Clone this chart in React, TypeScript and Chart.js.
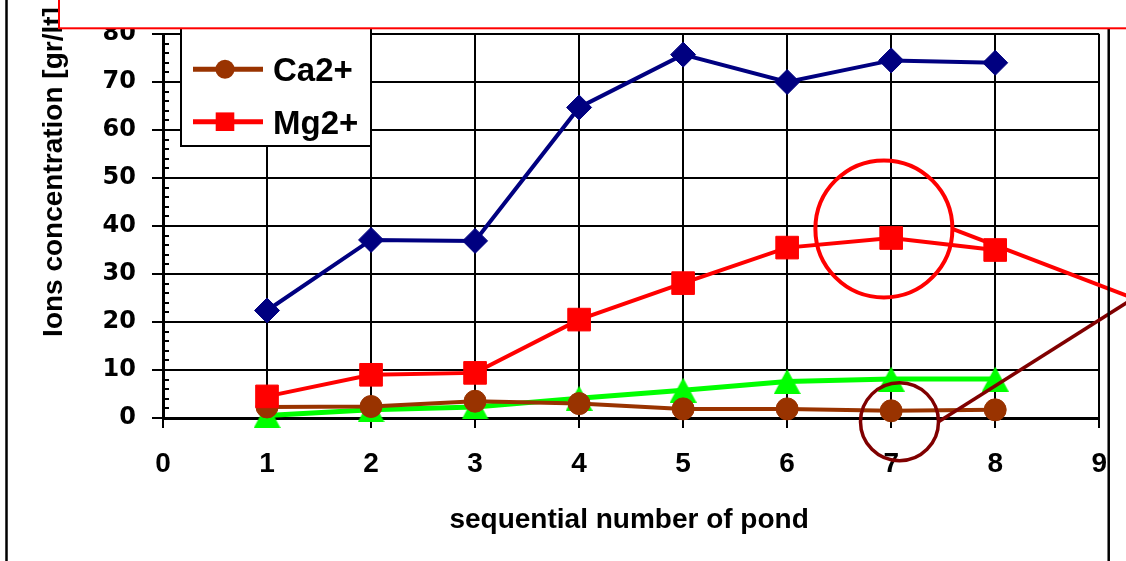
import { useEffect, useRef } from "react";
import { Chart, registerables } from "chart.js";

Chart.register(...registerables);

// ---- data ----
const ponds = [1, 2, 3, 4, 5, 6, 7, 8];
const naValues = [22.4, 37.1, 36.9, 64.7, 75.7, 70.0, 74.5, 74.0];
const kValues = [0.5, 1.7, 2.3, 4.1, 5.8, 7.6, 8.1, 8.1];
const caValues = [2.3, 2.4, 3.5, 3.0, 1.9, 1.9, 1.5, 1.7];
const mgValues = [4.5, 9.0, 9.4, 20.5, 28.1, 35.5, 37.5, 35.0];

const xRange = [0, 9];
const yRange = [0, 80];
const xTitle = "sequential number of pond";
const yTitle = "Ions concentration [gr/lt]";
const legendOrder = ["Na+", "K+", "Ca2+", "Mg2+"];

// highlight annotations (data coordinates)
const mgHighlightCenter = [6.93, 39.4];
const mgHighlightEnd = [9.3, 25.2];
const caHighlightCenter = [7.08, -0.77];
const caHighlightEnd = [9.3, 24.5];

const FONT = '"Liberation Sans", Arial, sans-serif';

const pts = (vals: number[]) => vals.map((v, i) => ({ x: ponds[i], y: v }));

// triangle marker centred on its bounding box (like the original spreadsheet marker)
function makeTriangle(color: string, w: number, h: number) {
  const c = document.createElement("canvas");
  c.width = w;
  c.height = h;
  const g = c.getContext("2d") as CanvasRenderingContext2D;
  g.fillStyle = color;
  g.beginPath();
  g.moveTo(w / 2, 0);
  g.lineTo(w, h);
  g.lineTo(0, h);
  g.closePath();
  g.fill();
  return c;
}

function drawMarker(ctx: CanvasRenderingContext2D, style: string, x: number, y: number, r: number, color: string) {
  ctx.save();
  ctx.fillStyle = color;
  ctx.beginPath();
  if (style === "circle") {
    ctx.arc(x, y, r, 0, Math.PI * 2);
  } else if (style === "rect") {
    ctx.rect(x - r, y - r, 2 * r, 2 * r);
  } else if (style === "triangle") {
    ctx.moveTo(x, y - r);
    ctx.lineTo(x + r, y + r);
    ctx.lineTo(x - r, y + r);
    ctx.closePath();
  } else {
    ctx.moveTo(x, y - r);
    ctx.lineTo(x + r, y);
    ctx.lineTo(x, y + r);
    ctx.lineTo(x - r, y);
    ctx.closePath();
  }
  ctx.fill();
  ctx.restore();
}

function drawHighlight(chart: any, center: number[], end: number[], color: string, radius: number, width: number) {
  const { ctx, scales } = chart;
  const cx = scales.x.getPixelForValue(center[0]);
  const cy = scales.y.getPixelForValue(center[1]);
  const ex = scales.x.getPixelForValue(end[0]);
  const ey = scales.y.getPixelForValue(end[1]);
  ctx.save();
  ctx.strokeStyle = color;
  ctx.lineWidth = width;
  ctx.beginPath();
  ctx.arc(cx, cy, radius, 0, Math.PI * 2);
  ctx.stroke();
  ctx.beginPath();
  ctx.moveTo(cx + radius, cy);
  ctx.lineTo(ex, ey);
  ctx.stroke();
  ctx.restore();
}

const decorPlugin = {
  id: "decor",
  afterDatasetsDraw(chart: any) {
    drawHighlight(chart, mgHighlightCenter, mgHighlightEnd, "#FF0000", 68.5, 4);
    drawHighlight(chart, caHighlightCenter, caHighlightEnd, "#800000", 39, 3.5);
  },
  afterDraw(chart: any) {
    const { ctx, chartArea, scales } = chart;
    const { left, right, top, bottom } = chartArea;
    const W = chart.width;
    const H = chart.height;

    // minor ticks on y axis (inside)
    ctx.save();
    ctx.strokeStyle = "#000";
    ctx.lineWidth = 2;
    for (let v = yRange[0]; v <= yRange[1]; v += 2) {
      if (v % 10 === 0) continue;
      const py = Math.round(scales.y.getPixelForValue(v));
      ctx.beginPath();
      ctx.moveTo(left, py);
      ctx.lineTo(left + 6, py);
      ctx.stroke();
    }
    ctx.restore();

    // legend box (upper entries hidden under the title box)
    const boxL = left + 18;
    const boxR = left + 208;
    const boxB = top + 112;
    const step = 52.4;
    const n = legendOrder.length;
    const boxT = boxB - 24.3 - (n - 1) * step - 26;
    ctx.save();
    ctx.fillStyle = "#fff";
    ctx.fillRect(boxL, boxT, boxR - boxL, boxB - boxT);
    ctx.strokeStyle = "#000";
    ctx.lineWidth = 2;
    ctx.strokeRect(boxL, boxT, boxR - boxL, boxB - boxT);
    legendOrder.forEach((label, i) => {
      const ds = chart.data.datasets.find((d: any) => d.label === label);
      if (!ds) return;
      const ly = boxB - 24.3 - (n - 1 - i) * step;
      ctx.strokeStyle = ds.borderColor;
      ctx.lineWidth = 5;
      ctx.beginPath();
      ctx.moveTo(boxL + 12, ly);
      ctx.lineTo(boxL + 82, ly);
      ctx.stroke();
      const st = ds.markerKind;
      const r = st === "circle" ? 9.5 : st === "rect" ? 9.3 : 11;
      drawMarker(ctx, st, boxL + 44, ly, r, ds.borderColor);
      ctx.fillStyle = "#000";
      ctx.font = `bold 33px ${FONT}`;
      ctx.textAlign = "left";
      ctx.textBaseline = "alphabetic";
      ctx.fillText(label, boxL + 92, ly + 12);
    });
    ctx.restore();

    // axis titles
    ctx.save();
    ctx.fillStyle = "#000";
    ctx.font = `bold 28px ${FONT}`;
    ctx.textAlign = "center";
    ctx.textBaseline = "alphabetic";
    ctx.fillText(xTitle, (left + right) / 2 - 2, bottom + 110);
    ctx.translate(62, 172);
    ctx.rotate(-Math.PI / 2);
    ctx.fillText(yTitle, 0, 0);
    ctx.restore();

    // outer chart frame lines
    ctx.save();
    ctx.strokeStyle = "#000";
    ctx.lineWidth = 2.5;
    ctx.beginPath();
    ctx.moveTo(6.5, 0);
    ctx.lineTo(6.5, H);
    ctx.moveTo(right + 9.5, 0);
    ctx.lineTo(right + 9.5, H);
    ctx.stroke();
    ctx.restore();

    // red bordered title box at the top
    ctx.save();
    ctx.fillStyle = "#fff";
    ctx.fillRect(59, -10, W, 38);
    ctx.strokeStyle = "#FF0000";
    ctx.lineWidth = 2;
    ctx.strokeRect(59, -10, W + 20, 38.3);
    ctx.restore();
  },
};

export default function App() {
  const ref = useRef<HTMLCanvasElement>(null);
  useEffect(() => {
    const common = { tension: 0, clip: false as any, pointBorderWidth: 1 };
    const chart = new Chart(ref.current as HTMLCanvasElement, {
      type: "line",
      data: {
        datasets: [
          {
            ...common,
            label: "Mg2+",
            markerKind: "rect",
            data: pts(mgValues),
            borderColor: "#FF0000",
            backgroundColor: "#FF0000",
            pointBackgroundColor: "#FF0000",
            pointBorderColor: "#FF0000",
            borderWidth: 4,
            pointStyle: "rect",
            pointRadius: 16,
          } as any,
          {
            ...common,
            label: "Ca2+",
            markerKind: "circle",
            data: pts(caValues),
            borderColor: "#993300",
            backgroundColor: "#993300",
            pointBackgroundColor: "#993300",
            pointBorderColor: "#993300",
            borderWidth: 4,
            pointStyle: "circle",
            pointRadius: 11,
          } as any,
          {
            ...common,
            label: "K+",
            markerKind: "triangle",
            data: pts(kValues),
            borderColor: "#00FF00",
            backgroundColor: "#00FF00",
            pointBackgroundColor: "#00FF00",
            pointBorderColor: "#00FF00",
            borderWidth: 5,
            pointStyle: makeTriangle("#00FF00", 27, 25),
            pointRadius: 13,
          } as any,
          {
            ...common,
            label: "Na+",
            markerKind: "diamond",
            data: pts(naValues),
            borderColor: "#000080",
            backgroundColor: "#000080",
            pointBackgroundColor: "#000080",
            pointBorderColor: "#000080",
            borderWidth: 4,
            pointStyle: "rectRot",
            pointRadius: 12.5,
          } as any,
        ],
      },
      options: {
        animation: false,
        responsive: false,
        events: [],
        layout: { autoPadding: false, padding: { top: 34, right: 25, left: 0, bottom: 0 } },
        plugins: {
          legend: { display: false },
          tooltip: { enabled: false },
          title: { display: false },
        },
        scales: {
          x: {
            type: "linear",
            min: xRange[0],
            max: xRange[1],
            ticks: {
              stepSize: 1,
              color: "#000",
              padding: 19,
              maxRotation: 0,
              autoSkip: false,
              font: { family: FONT, size: 28, weight: "bold" },
            },
            grid: { color: "#000", lineWidth: 2, tickLength: 10 },
            border: { color: "#000", width: 3 },
            afterFit: (s: any) => {
              s.height = 143;
            },
          },
          y: {
            type: "linear",
            min: yRange[0],
            max: yRange[1],
            ticks: {
              stepSize: 10,
              color: "#000",
              padding: 16,
              font: { family: '"DejaVu Sans", sans-serif', size: 24, weight: "bold" },
            },
            grid: { color: "#000", lineWidth: 2, tickLength: 11 },
            border: { color: "#000", width: 3 },
            afterFit: (s: any) => {
              s.width = 163;
            },
          },
        },
      },
      plugins: [decorPlugin],
    });
    return () => chart.destroy();
  }, []);
  return (
    <div style={{ position: "absolute", left: 0, top: 0, width: 1126, height: 561, background: "#fff" }}>
      <canvas ref={ref} width={1126} height={561} style={{ display: "block" }} />
    </div>
  );
}
